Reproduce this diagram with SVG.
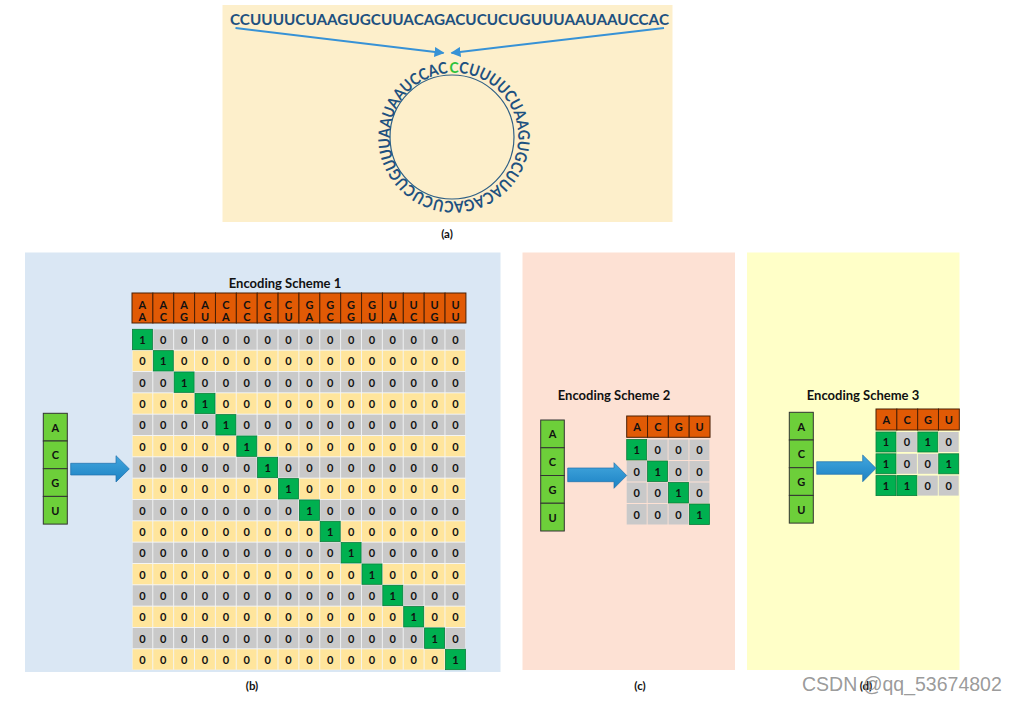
<svg xmlns="http://www.w3.org/2000/svg" width="1015" height="704" viewBox="0 0 1015 704">
<style>
  text { font-family: "Lato", "Open Sans", "Liberation Sans", sans-serif; font-weight: bold; fill: #111; }
  .seq { fill: #1E5180; font-size: 16px; }
  .title { font-size: 13px; }
  .lbl { font-size: 11.5px; }
  .cell { font-size: 11px; text-anchor: middle; }
  .hdr { fill: #E15A05; stroke: #4A2005; stroke-width: 1; }
  .nuc { fill: #6DCF3A; stroke: #333; stroke-width: 1; }
  .g1 { fill: #00B050; stroke: #0B7D3C; stroke-width: 0.8; }
  .gr { fill: #C9C9C9; }
  .bar { fill: url(#blue); stroke: #1F70AC; stroke-width: 0.7; }
  .thin { stroke: #3792D6; stroke-width: 2; fill: none; }
</style>
<defs>
  <linearGradient id="blue" x1="0" y1="0" x2="0" y2="1">
    <stop offset="0" stop-color="#42A6DD"/>
    <stop offset="1" stop-color="#1C82C4"/>
  </linearGradient>
  <pattern id="pg" patternUnits="userSpaceOnUse" x="132.4" y="0" width="20.87" height="704">
    <rect x="0" y="0" width="20" height="704" fill="#C9C9C9"/>
  </pattern>
  <pattern id="py" patternUnits="userSpaceOnUse" x="132.4" y="0" width="20.87" height="704">
    <rect x="0" y="0" width="20" height="704" fill="#FFE59C"/>
  </pattern>
  <marker id="ah" viewBox="0 0 10 10" refX="9" refY="5" markerWidth="5" markerHeight="5" orient="auto" markerUnits="strokeWidth">
    <path d="M0,0 L10,5 L0,10 z" fill="#3792D6"/>
  </marker>
</defs>
<rect width="1015" height="704" fill="#FFFFFF"/>

<!-- panel backgrounds -->
<g id="panels">
  <rect x="222.5" y="5" width="450" height="217" fill="#FDEFCB"/>
  <rect x="25" y="252.5" width="475.5" height="419.5" fill="#DAE7F4"/>
  <rect x="522.5" y="252.5" width="212.5" height="417.5" fill="#FDE1D4"/>
  <rect x="747" y="252.5" width="212.5" height="417.5" fill="#FFFFC8"/>
</g>

<!-- (a) linear and circular sequence -->
<g id="linear-seq">
  <text class="seq" x="230" y="25" textLength="439" lengthAdjust="spacingAndGlyphs">CCUUUUCUAAGUGCUUACAGACUCUCUGUUUAAUAAUCCAC</text>
</g>
<g id="circular-seq">
  <path id="cpath" d="M449.6,73.0 A64,64 0 1,1 458.4,201.0 A64,64 0 1,1 449.6,73.0" fill="none"/>
  <circle cx="452" cy="137" r="62" fill="none" stroke="#2F5F85" stroke-width="1.2"/>
  <text class="seq" style="font-size:16px"><textPath href="#cpath" textLength="401" lengthAdjust="spacingAndGlyphs"><tspan fill="#2EC23A">C</tspan>CUUUUCUAAGUGCUUACAGACUCUCUGUUUAAUAAUCCAC</textPath></text>
</g>
<g id="label-a"><text class="lbl" x="447" y="238" text-anchor="middle">(a)</text></g>

<!-- (b) encoding scheme 1 -->
<g id="scheme1">
  <text class="title" x="285" y="288" text-anchor="middle">Encoding Scheme 1</text>
  <g id="s1-header">
    <rect class="hdr" x="132" y="293" width="20.87" height="30"/>
    <rect class="hdr" x="152.87" y="293" width="20.87" height="30"/>
    <rect class="hdr" x="173.74" y="293" width="20.87" height="30"/>
    <rect class="hdr" x="194.61" y="293" width="20.87" height="30"/>
    <rect class="hdr" x="215.48" y="293" width="20.87" height="30"/>
    <rect class="hdr" x="236.35" y="293" width="20.87" height="30"/>
    <rect class="hdr" x="257.22" y="293" width="20.87" height="30"/>
    <rect class="hdr" x="278.09" y="293" width="20.87" height="30"/>
    <rect class="hdr" x="298.96" y="293" width="20.87" height="30"/>
    <rect class="hdr" x="319.83" y="293" width="20.87" height="30"/>
    <rect class="hdr" x="340.7" y="293" width="20.87" height="30"/>
    <rect class="hdr" x="361.57" y="293" width="20.87" height="30"/>
    <rect class="hdr" x="382.44" y="293" width="20.87" height="30"/>
    <rect class="hdr" x="403.31" y="293" width="20.87" height="30"/>
    <rect class="hdr" x="424.18" y="293" width="20.87" height="30"/>
    <rect class="hdr" x="445.05" y="293" width="20.87" height="30"/>
    <text class="cell" x="142.4 163.3 184.1 205 225.9 246.8 267.6 288.5 309.4 330.2 351.1 372 392.8 413.7 434.6 455.5" y="308.5">AAAACCCCGGGGUUUU</text>
    <text class="cell" x="142.4 163.3 184.1 205 225.9 246.8 267.6 288.5 309.4 330.2 351.1 372 392.8 413.7 434.6 455.5" y="320.8">ACGUACGUACGUACGU</text>
  </g>
  <g id="s1-grid">
    <rect x="132.4" y="329.3" width="333.1" height="340.4" fill="#F4F6F8"/>
    <rect x="132.4" y="329.3" width="333.1" height="20.4" fill="url(#pg)"/>
    <rect x="132.4" y="350.63" width="333.1" height="20.4" fill="url(#py)"/>
    <rect x="132.4" y="371.96" width="333.1" height="20.4" fill="url(#pg)"/>
    <rect x="132.4" y="393.29" width="333.1" height="20.4" fill="url(#py)"/>
    <rect x="132.4" y="414.62" width="333.1" height="20.4" fill="url(#pg)"/>
    <rect x="132.4" y="435.95" width="333.1" height="20.4" fill="url(#py)"/>
    <rect x="132.4" y="457.28" width="333.1" height="20.4" fill="url(#pg)"/>
    <rect x="132.4" y="478.61" width="333.1" height="20.4" fill="url(#py)"/>
    <rect x="132.4" y="499.94" width="333.1" height="20.4" fill="url(#pg)"/>
    <rect x="132.4" y="521.27" width="333.1" height="20.4" fill="url(#py)"/>
    <rect x="132.4" y="542.6" width="333.1" height="20.4" fill="url(#pg)"/>
    <rect x="132.4" y="563.93" width="333.1" height="20.4" fill="url(#py)"/>
    <rect x="132.4" y="585.26" width="333.1" height="20.4" fill="url(#pg)"/>
    <rect x="132.4" y="606.59" width="333.1" height="20.4" fill="url(#py)"/>
    <rect x="132.4" y="627.92" width="333.1" height="20.4" fill="url(#pg)"/>
    <rect x="132.4" y="649.25" width="333.1" height="20.4" fill="url(#py)"/>
    <rect class="g1" x="132.4" y="329.3" width="20" height="20.4"/>
    <rect class="g1" x="153.3" y="350.63" width="20" height="20.4"/>
    <rect class="g1" x="174.1" y="371.96" width="20" height="20.4"/>
    <rect class="g1" x="195" y="393.29" width="20" height="20.4"/>
    <rect class="g1" x="215.9" y="414.62" width="20" height="20.4"/>
    <rect class="g1" x="236.8" y="435.95" width="20" height="20.4"/>
    <rect class="g1" x="257.6" y="457.28" width="20" height="20.4"/>
    <rect class="g1" x="278.5" y="478.61" width="20" height="20.4"/>
    <rect class="g1" x="299.4" y="499.94" width="20" height="20.4"/>
    <rect class="g1" x="320.2" y="521.27" width="20" height="20.4"/>
    <rect class="g1" x="341.1" y="542.6" width="20" height="20.4"/>
    <rect class="g1" x="362" y="563.93" width="20" height="20.4"/>
    <rect class="g1" x="382.8" y="585.26" width="20" height="20.4"/>
    <rect class="g1" x="403.7" y="606.59" width="20" height="20.4"/>
    <rect class="g1" x="424.6" y="627.92" width="20" height="20.4"/>
    <rect class="g1" x="445.5" y="649.25" width="20" height="20.4"/>
    <g class="rows">
      <text class="cell" x="142.4 163.3 184.1 205 225.9 246.8 267.6 288.5 309.4 330.2 351.1 372 392.8 413.7 434.6 455.5" y="343.9">1000000000000000</text>
      <text class="cell" x="142.4 163.3 184.1 205 225.9 246.8 267.6 288.5 309.4 330.2 351.1 372 392.8 413.7 434.6 455.5" y="365.2">0100000000000000</text>
      <text class="cell" x="142.4 163.3 184.1 205 225.9 246.8 267.6 288.5 309.4 330.2 351.1 372 392.8 413.7 434.6 455.5" y="386.6">0010000000000000</text>
      <text class="cell" x="142.4 163.3 184.1 205 225.9 246.8 267.6 288.5 309.4 330.2 351.1 372 392.8 413.7 434.6 455.5" y="407.9">0001000000000000</text>
      <text class="cell" x="142.4 163.3 184.1 205 225.9 246.8 267.6 288.5 309.4 330.2 351.1 372 392.8 413.7 434.6 455.5" y="429.2">0000100000000000</text>
      <text class="cell" x="142.4 163.3 184.1 205 225.9 246.8 267.6 288.5 309.4 330.2 351.1 372 392.8 413.7 434.6 455.5" y="450.6">0000010000000000</text>
      <text class="cell" x="142.4 163.3 184.1 205 225.9 246.8 267.6 288.5 309.4 330.2 351.1 372 392.8 413.7 434.6 455.5" y="471.9">0000001000000000</text>
      <text class="cell" x="142.4 163.3 184.1 205 225.9 246.8 267.6 288.5 309.4 330.2 351.1 372 392.8 413.7 434.6 455.5" y="493.2">0000000100000000</text>
      <text class="cell" x="142.4 163.3 184.1 205 225.9 246.8 267.6 288.5 309.4 330.2 351.1 372 392.8 413.7 434.6 455.5" y="514.5">0000000010000000</text>
      <text class="cell" x="142.4 163.3 184.1 205 225.9 246.8 267.6 288.5 309.4 330.2 351.1 372 392.8 413.7 434.6 455.5" y="535.9">0000000001000000</text>
      <text class="cell" x="142.4 163.3 184.1 205 225.9 246.8 267.6 288.5 309.4 330.2 351.1 372 392.8 413.7 434.6 455.5" y="557.2">0000000000100000</text>
      <text class="cell" x="142.4 163.3 184.1 205 225.9 246.8 267.6 288.5 309.4 330.2 351.1 372 392.8 413.7 434.6 455.5" y="578.5">0000000000010000</text>
      <text class="cell" x="142.4 163.3 184.1 205 225.9 246.8 267.6 288.5 309.4 330.2 351.1 372 392.8 413.7 434.6 455.5" y="599.9">0000000000001000</text>
      <text class="cell" x="142.4 163.3 184.1 205 225.9 246.8 267.6 288.5 309.4 330.2 351.1 372 392.8 413.7 434.6 455.5" y="621.2">0000000000000100</text>
      <text class="cell" x="142.4 163.3 184.1 205 225.9 246.8 267.6 288.5 309.4 330.2 351.1 372 392.8 413.7 434.6 455.5" y="642.5">0000000000000010</text>
      <text class="cell" x="142.4 163.3 184.1 205 225.9 246.8 267.6 288.5 309.4 330.2 351.1 372 392.8 413.7 434.6 455.5" y="663.9">0000000000000001</text>
    </g>
  </g>
  <g id="s1-nuc">
    <rect class="nuc" x="43.3" y="413.3" width="24" height="27.7"/>
    <rect class="nuc" x="43.3" y="441" width="24" height="27.7"/>
    <rect class="nuc" x="43.3" y="468.7" width="24" height="27.7"/>
    <rect class="nuc" x="43.3" y="496.4" width="24" height="27.7"/>
    <text class="cell" x="55.3" y="431.5">A</text>
    <text class="cell" x="55.3" y="459.2">C</text>
    <text class="cell" x="55.3" y="486.9">G</text>
    <text class="cell" x="55.3" y="514.6">U</text>
  </g>
</g>
<g id="label-b"><text class="lbl" x="252" y="690" text-anchor="middle">(b)</text></g>

<!-- (c) encoding scheme 2 -->
<g id="scheme2">
  <text class="title" x="614" y="400" text-anchor="middle">Encoding Scheme 2</text>
  <g id="s2-nuc">
    <rect class="nuc" x="540.7" y="420" width="23.6" height="27.75"/>
    <rect class="nuc" x="540.7" y="447.75" width="23.6" height="27.75"/>
    <rect class="nuc" x="540.7" y="475.5" width="23.6" height="27.75"/>
    <rect class="nuc" x="540.7" y="503.25" width="23.6" height="27.75"/>
    <text class="cell" x="552.5" y="438.3">A</text>
    <text class="cell" x="552.5" y="466">C</text>
    <text class="cell" x="552.5" y="493.8">G</text>
    <text class="cell" x="552.5" y="521.5">U</text>
  </g>
  <g id="s2-table">
    <rect class="hdr" x="626.7" y="416" width="20.83" height="21.3"/>
    <rect class="hdr" x="647.53" y="416" width="20.83" height="21.3"/>
    <rect class="hdr" x="668.36" y="416" width="20.83" height="21.3"/>
    <rect class="hdr" x="689.19" y="416" width="20.83" height="21.3"/>
    <text class="cell" x="637.1 657.9 678.8 699.6" y="430.8">ACGU</text>
    <rect class="g1" x="626.7" y="439.5" width="20" height="20.5"/>
    <rect class="gr" x="647.6" y="439.5" width="20" height="20.5"/>
    <rect class="gr" x="668.5" y="439.5" width="20" height="20.5"/>
    <rect class="gr" x="689.4" y="439.5" width="20" height="20.5"/>
    <rect class="gr" x="626.7" y="461" width="20" height="20.5"/>
    <rect class="g1" x="647.6" y="461" width="20" height="20.5"/>
    <rect class="gr" x="668.5" y="461" width="20" height="20.5"/>
    <rect class="gr" x="689.4" y="461" width="20" height="20.5"/>
    <rect class="gr" x="626.7" y="482.5" width="20" height="20.5"/>
    <rect class="gr" x="647.6" y="482.5" width="20" height="20.5"/>
    <rect class="g1" x="668.5" y="482.5" width="20" height="20.5"/>
    <rect class="gr" x="689.4" y="482.5" width="20" height="20.5"/>
    <rect class="gr" x="626.7" y="504" width="20" height="20.5"/>
    <rect class="gr" x="647.6" y="504" width="20" height="20.5"/>
    <rect class="gr" x="668.5" y="504" width="20" height="20.5"/>
    <rect class="g1" x="689.4" y="504" width="20" height="20.5"/>
    <text class="cell" x="636.7 657.6 678.5 699.4" y="454">1000</text>
    <text class="cell" x="636.7 657.6 678.5 699.4" y="475.5">0100</text>
    <text class="cell" x="636.7 657.6 678.5 699.4" y="497">0010</text>
    <text class="cell" x="636.7 657.6 678.5 699.4" y="518.5">0001</text>
  </g>
</g>
<g id="label-c"><text class="lbl" x="640" y="690" text-anchor="middle">(c)</text></g>

<!-- (d) encoding scheme 3 -->
<g id="scheme3">
  <text class="title" x="863" y="400" text-anchor="middle">Encoding Scheme 3</text>
  <g id="s3-nuc">
    <rect class="nuc" x="789.3" y="412.3" width="24" height="27.7"/>
    <rect class="nuc" x="789.3" y="440" width="24" height="27.7"/>
    <rect class="nuc" x="789.3" y="467.7" width="24" height="27.7"/>
    <rect class="nuc" x="789.3" y="495.4" width="24" height="27.7"/>
    <text class="cell" x="801.3" y="430.5">A</text>
    <text class="cell" x="801.3" y="458.2">C</text>
    <text class="cell" x="801.3" y="485.9">G</text>
    <text class="cell" x="801.3" y="513.6">U</text>
  </g>
  <g id="s3-table">
    <rect class="hdr" x="876" y="409" width="20.83" height="21"/>
    <rect class="hdr" x="896.83" y="409" width="20.83" height="21"/>
    <rect class="hdr" x="917.66" y="409" width="20.83" height="21"/>
    <rect class="hdr" x="938.49" y="409" width="20.83" height="21"/>
    <text class="cell" x="886.4 907.2 928.1 948.9" y="423.6">ACGU</text>
    <rect class="g1" x="876" y="432" width="20" height="20"/>
    <rect class="gr" x="896.9" y="432" width="20" height="20"/>
    <rect class="g1" x="917.8" y="432" width="20" height="20"/>
    <rect class="gr" x="938.7" y="432" width="20" height="20"/>
    <rect class="g1" x="876" y="453.8" width="20" height="20"/>
    <rect class="gr" x="896.9" y="453.8" width="20" height="20"/>
    <rect class="gr" x="917.8" y="453.8" width="20" height="20"/>
    <rect class="g1" x="938.7" y="453.8" width="20" height="20"/>
    <rect class="g1" x="876" y="475.6" width="20" height="20"/>
    <rect class="g1" x="896.9" y="475.6" width="20" height="20"/>
    <rect class="gr" x="917.8" y="475.6" width="20" height="20"/>
    <rect class="gr" x="938.7" y="475.6" width="20" height="20"/>
    <text class="cell" x="886 906.9 927.8 948.7" y="446.3">1010</text>
    <text class="cell" x="886 906.9 927.8 948.7" y="468.1">1001</text>
    <text class="cell" x="886 906.9 927.8 948.7" y="489.9">1100</text>
  </g>
</g>
<g id="label-d"><text class="lbl" x="866" y="690" text-anchor="middle">(d)</text></g>

<!-- connectors -->
<g id="connectors">
  <line class="thin" x1="235.5" y1="28" x2="443.5" y2="53" marker-end="url(#ah)"/>
  <line class="thin" x1="664" y1="28" x2="451.5" y2="53" marker-end="url(#ah)"/>
  <polygon class="bar" points="70.7,463.3 116,463.3 116,455.7 129.3,468.9 116,482 116,475 70.7,475"/>
  <polygon class="bar" points="567.7,468 614,468 614,462.7 626.7,475.5 614,488.3 614,481.7 567.7,481.7"/>
  <polygon class="bar" points="816.7,461.7 862.7,461.7 862.7,455 876,468.3 862.7,481.7 862.7,474.3 816.7,474.3"/>
</g>

<g id="watermark">
  <text x="802" y="691" style="font-family:'Liberation Sans',Arial,sans-serif;font-weight:normal;font-size:19.5px;fill:#8E8E8E;fill-opacity:0.9">CSDN @qq_53674802</text>
</g>
</svg>
